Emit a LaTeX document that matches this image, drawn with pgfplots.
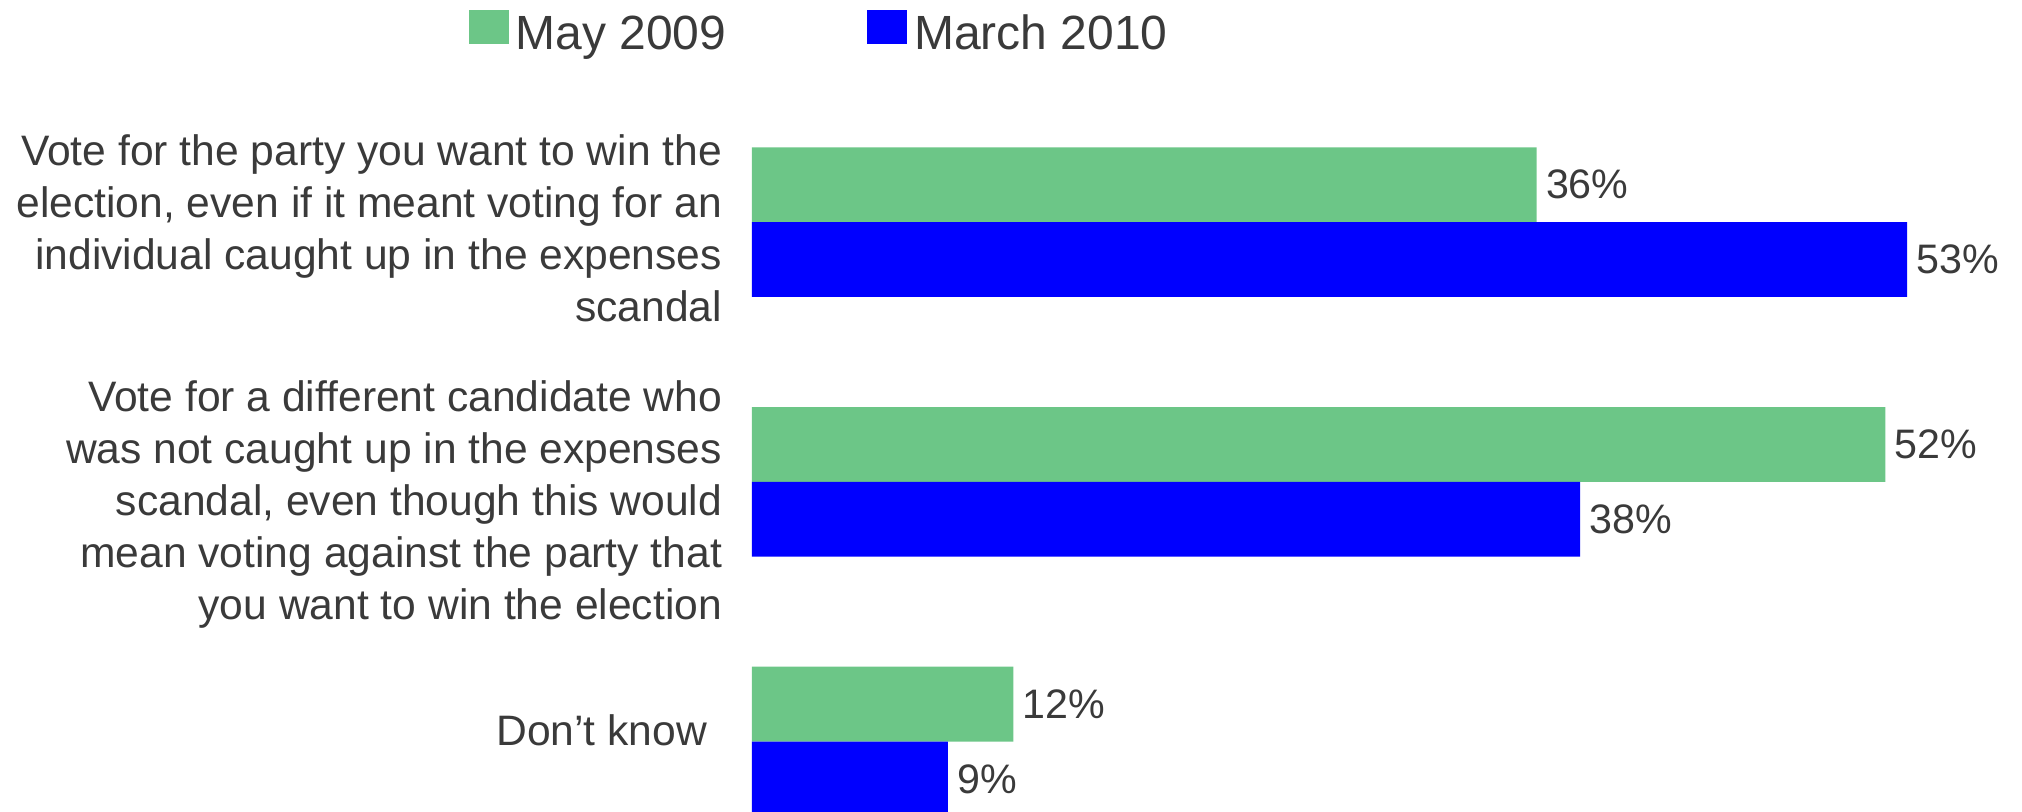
\documentclass[border=0pt]{standalone}
\usepackage{fontspec}
\setmainfont{Liberation Sans}
\usepackage{pgfplots}
\pgfplotsset{compat=1.18}
\definecolor{mgreen}{HTML}{6CC687}
\definecolor{mblue}{HTML}{0000FF}
\definecolor{txt}{HTML}{3A3A3A}
\newcommand{\catfont}{\fontsize{21.3}{26}\selectfont}
\begin{document}
\begin{tikzpicture}
\useasboundingbox (-375.9pt,0pt) rectangle (635.1pt,405.5pt);
\begin{axis}[
  at={(0pt,0pt)}, anchor=south west,
  x=10.9pt, y=129.85pt,
  xmin=0, xmax=58.27, ymin=-0.2676, ymax=2.854,
  axis line style={draw=none},
  tick style={draw=none},
  xtick=\empty,
  ytick={0,1,2},
  yticklabels={
    {\raisebox{-2.1pt}[0pt][0pt]{\catfont\begin{tabular}{@{}r@{}}Don’t know\hspace*{7.5pt}\end{tabular}}},
    {\raisebox{-16.6pt}[0pt][0pt]{\catfont\begin{tabular}{@{}r@{}}Vote for a different candidate who\\was not caught up in the expenses\\scandal, even though this would\\mean voting against the party that\\you want to win the election\end{tabular}}},
    {\raisebox{-10.5pt}[0pt][0pt]{\catfont\begin{tabular}{@{}r@{}}Vote for the party you want to win the\\election, even if it meant voting for an\\individual caught up in the expenses\\scandal\end{tabular}}}
  },
  yticklabel style={anchor=east, inner sep=0pt, xshift=-10.4pt, text=txt},
  xbar,
  bar width=37.4pt,
  /pgf/number format/assume math mode=true,
  nodes near coords={\pgfmathprintnumber{\pgfplotspointmeta}\%},
  point meta=x,
  every node near coord/.append style={anchor=west, inner sep=0pt, xshift=4.5pt,
    font=\fontsize{20.6}{24}\selectfont, text=txt},
  legend columns=2,
  legend style={at={(-0.2226,0.98768)}, anchor=north west, draw=none, fill=none,
    inner sep=0pt, outer sep=0pt, font=\fontsize{24}{28}\selectfont, text=txt,
    nodes={inner sep=0pt},
    /tikz/every even column/.append style={column sep=70.5pt}},
]
\addplot[xbar, fill=mgreen, draw=none, bar shift=18.7pt,
  legend image code/.code={}]
  coordinates {(36,2) (52,1) (12,0)};
\addlegendentry{\textcolor{mgreen}{\rule[2.65pt]{20pt}{17pt}}\hspace{3.3pt}May 2009}
\addplot[xbar, fill=mblue, draw=none, bar shift=-18.7pt,
  legend image code/.code={}]
  coordinates {(53,2) (38,1) (9,0)};
\addlegendentry{\textcolor{mblue}{\rule[2.65pt]{20pt}{17pt}}\hspace{3.3pt}March 2010}
\end{axis}
\end{tikzpicture}
\end{document}
